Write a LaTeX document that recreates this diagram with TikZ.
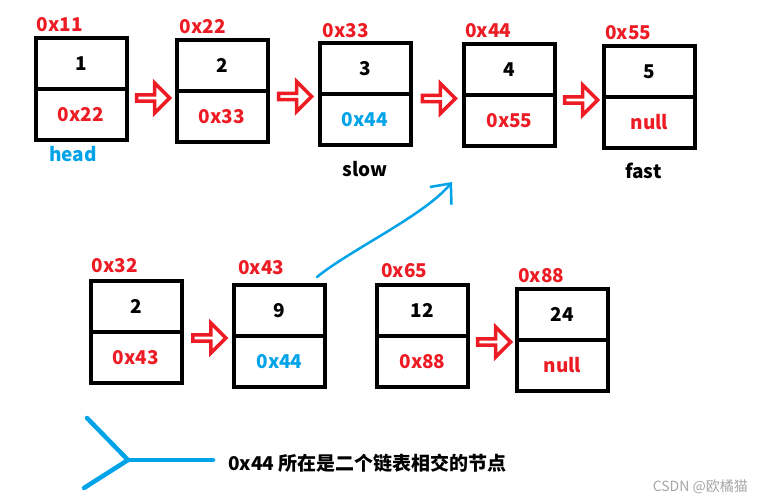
\documentclass[tikz,border=0pt]{standalone}
\usepackage{fontspec}
\setmainfont{Noto Sans CJK SC}
\usepackage{tikz}
\usetikzlibrary{arrows.meta,positioning,shapes.arrows}
\definecolor{ptrred}{HTML}{ED1C24}
\definecolor{hitblue}{HTML}{00A2E8}

\begin{document}
\begin{tikzpicture}[x=1pt, y=-1pt, font=\fontsize{19}{22}\selectfont\bfseries,
  cell/.style={draw, line width=4pt, outer sep=0pt, inner sep=0pt, minimum width=91pt, minimum height=51pt},
  nxt/.style={cell, text=ptrred},
  addr/.style={text=ptrred, inner sep=0pt, anchor=south west},
  tag/.style={inner sep=0pt},
  hollow/.style={single arrow, draw=ptrred, fill=white, line width=3.5pt, inner sep=0pt,
    minimum height=33pt, minimum width=30pt, single arrow head extend=6.5pt, yshift=-4pt},
  wire/.style={draw=hitblue, line width=2.5pt, line cap=round, line join=round}]
  \useasboundingbox (0,0) rectangle (763,503);
  % upper list
  \node[cell] (val11) at (81,63.5) {1};
  \node[nxt, below=0pt of val11] (nxt11) {0x22};
  \node[cell] (val22) at (222,65.5) {2};
  \node[nxt, below=0pt of val22] (nxt22) {0x33};
  \node[cell] (val33) at (365,68.5) {3};
  \node[nxt, below=0pt of val33, text=hitblue] (nxt33) {0x44};
  \node[cell] (val44) at (509.5,69.5) {4};
  \node[nxt, below=0pt of val44] (nxt44) {0x55};
  \node[cell] (val55) at (649.5,71.5) {5};
  \node[nxt, below=0pt of val55] (nxt55) {null};
  % lower lists
  \node[cell] (val32) at (136,306.5) {2};
  \node[nxt, below=0pt of val32] (nxt32) {0x43};
  \node[cell] (val43) at (279.5,310.5) {9};
  \node[nxt, below=0pt of val43, text=hitblue] (nxt43) {0x44};
  \node[cell] (val65) at (422.5,310.5) {12};
  \node[nxt, below=0pt of val65] (nxt65) {0x88};
  \node[cell] (val88) at (562.5,314.5) {24};
  \node[nxt, below=0pt of val88] (nxt88) {null};
  % addresses
  \node[addr] at ([xshift=1pt,yshift=6pt]val11.north west) {0x11};
  \node[addr] at ([xshift=3pt,yshift=6pt]val22.north west) {0x22};
  \node[addr] at ([xshift=3pt,yshift=5pt]val33.north west) {0x33};
  \node[addr] at ([xshift=1pt,yshift=6pt]val44.north west) {0x44};
  \node[addr] at ([xshift=1pt,yshift=6pt]val55.north west) {0x55};
  \node[addr] at ([xshift=1pt,yshift=8pt]val32.north west) {0x32};
  \node[addr] at ([xshift=4pt,yshift=10pt]val43.north west) {0x43};
  \node[addr] at ([xshift=4pt,yshift=7pt]val65.north west) {0x65};
  \node[addr] at ([xshift=1pt,yshift=6pt]val88.north west) {0x88};
  % pointers
  \node[tag, text=hitblue, below=6pt of nxt11, xshift=-8pt] (head) {head};
  \node[tag, below=16pt of nxt33] (slow) {slow};
  \node[tag, below=15pt of nxt55, xshift=-6pt] (fast) {fast};
  % links
  \path (val11.south east) -- node[hollow, yshift=-4pt] (r11) {} (val22.south west);
  \path (val22.south east) -- node[hollow] (r22) {} (val33.south west);
  \path (val33.south east) -- node[hollow] (r33) {} (val44.south west);
  \path (val44.south east) -- node[hollow] (r44) {} (val55.south west);
  \path (val32.south east) -- node[hollow] (r32) {} (val43.south west);
  \path (val65.south east) -- node[hollow] (r65) {} (val88.south west);
  % crossing
  \coordinate (meet) at (452,182);
  \draw[wire, -{Straight Barb[length=16pt, width=28pt]}] ([xshift=-8pt,yshift=8pt]val43.north east)
    .. controls (350,250) and (425,215) .. (meet);
  \coordinate (yjoin) at (128,460);
  \coordinate (ytail) at (213,460);
  \draw[wire, line width=4.5pt] (87,418) -- (yjoin) -- (84,488);
  \draw[wire, line width=4.5pt] (yjoin) -- (ytail);
  \node[tag, right=15pt of ytail, yshift=-3pt, font=\fontsize{19}{22}\selectfont\bfseries] (note) {0x44 所在是二个链表相交的节点};
  \node[tag, anchor=east, text=black!35, font=\fontsize{14}{16}\selectfont] (mark) at (748,487) {CSDN @欧橘猫};
\end{tikzpicture}
\end{document}
